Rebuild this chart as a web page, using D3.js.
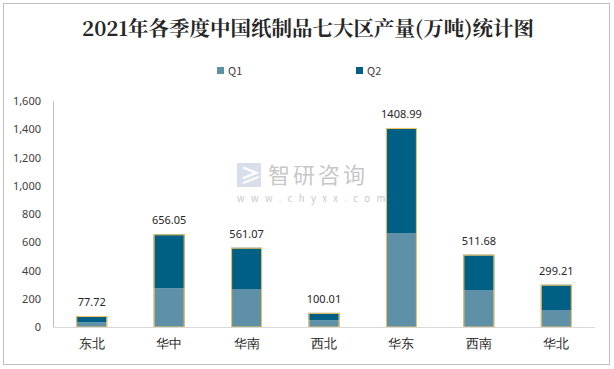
<!DOCTYPE html>
<html><head><meta charset="utf-8">
<script src="https://cdn.jsdelivr.net/npm/d3@7/dist/d3.min.js"></script>
<style>body{margin:0;background:#fff;}svg{display:block;font-family:"Noto Sans CJK SC","Noto Sans",sans-serif;}</style>
</head><body>
<svg id="c" width="614" height="369"></svg>
<script>
const categories = ["东北","华中","华南","西北","华东","西南","华北"];
const q1 = [33, 274, 269, 48, 665, 262, 120];
const totals = [77.72, 656.05, 561.07, 100.01, 1408.99, 511.68, 299.21];
const q2 = totals.map((t,i)=>t-q1[i]);
const yTicks = [0,200,400,600,800,1000,1200,1400,1600];
const seriesNames = ["Q1","Q2"];
const colors = ["#5E90A8","#005F84"];

const svg = d3.select("#c");
svg.append("rect").attr("x",3.5).attr("y",3.5).attr("width",606).attr("height",361).attr("fill","#fff").attr("stroke","#bfbfbf");

svg.append("text").attr("x",308).attr("y",36).attr("text-anchor","middle")
  .attr("font-size",20.5).attr("font-weight","bold").attr("fill","#262626")
  .attr("font-family","'Noto Serif CJK SC','Noto Sans CJK SC',serif")
  .text("2021年各季度中国纸制品七大区产量(万吨)统计图");

// legend
const legX=[217,356];
seriesNames.forEach((n,i)=>{
  svg.append("rect").attr("x",legX[i]).attr("y",67).attr("width",7).attr("height",7).attr("fill",colors[i]);
  svg.append("text").attr("x",legX[i]+11).attr("y",74.5).attr("font-size",11).attr("fill","#404040").text(n);
});

const x = d3.scaleBand().domain(categories).range([53,595]).paddingInner(0.6).paddingOuter(0.3);
const y = d3.scaleLinear().domain([0,1600]).range([327,101]);

// watermark
const wm = svg.append("g").attr("opacity",0.55);
wm.append("text").attr("x",268).attr("y",183).attr("font-size",22).attr("fill","#9a9a9a").attr("letter-spacing",3).text("智研咨询");
wm.append("text").attr("x",237).attr("y",202).attr("font-size",9.5).attr("fill","#9a9a9a").attr("letter-spacing",6.4).text("www.chyxx.com");
wm.append("rect").attr("x",237).attr("y",163).attr("width",24).attr("height",24).attr("fill","#b9c6dc");
wm.append("text").attr("x",240).attr("y",183).attr("font-size",21).attr("font-weight","bold").attr("fill","#fff").text("≥");

// y axis
const ya = svg.append("g").attr("transform","translate(53,0)").call(d3.axisLeft(y).tickValues(yTicks).tickSize(0).tickPadding(12).tickFormat(d3.format(",")));
ya.select(".domain").attr("stroke","#bfbfbf");
ya.selectAll("text").attr("font-size",11).attr("fill","#404040").attr("font-family","'Noto Sans','DejaVu Sans',sans-serif");

const stack = d3.stack().keys([0,1]).value((d,k)=>d[k])(categories.map((c,i)=>[q1[i],q2[i]]));
stack.forEach((s,k)=>{
  svg.append("g").selectAll("rect").data(s).join("rect")
    .attr("x",(d,i)=>x(categories[i])).attr("width",x.bandwidth())
    .attr("y",d=>y(d[1])).attr("height",d=>y(d[0])-y(d[1]))
    .attr("fill",colors[k]);
});
// outline
svg.append("g").selectAll("rect").data(totals).join("rect")
  .attr("x",(d,i)=>x(categories[i])+0.5).attr("width",x.bandwidth()-1)
  .attr("y",d=>y(d)+0.5).attr("height",d=>y(0)-y(d)-0.5)
  .attr("fill","none").attr("stroke","#F5C65C").attr("stroke-width",1);

// x axis
const xa = svg.append("g").attr("transform","translate(0,327)").call(d3.axisBottom(x).tickSize(0).tickPadding(12));
xa.select(".domain").attr("stroke","#d9d9d9").attr("d","M53,0.5H595");
xa.selectAll("text").attr("font-size",13).attr("fill","#262626");

// labels
svg.append("g").selectAll("text").data(totals).join("text")
  .attr("x",(d,i)=>x(categories[i])+x.bandwidth()/2).attr("y",d=>y(d)-10)
  .attr("text-anchor","middle").attr("font-size",11).attr("fill","#262626")
  .attr("font-family","'Noto Sans','DejaVu Sans',sans-serif")
  .text(d=>d.toFixed(2));
</script>
</body></html>
